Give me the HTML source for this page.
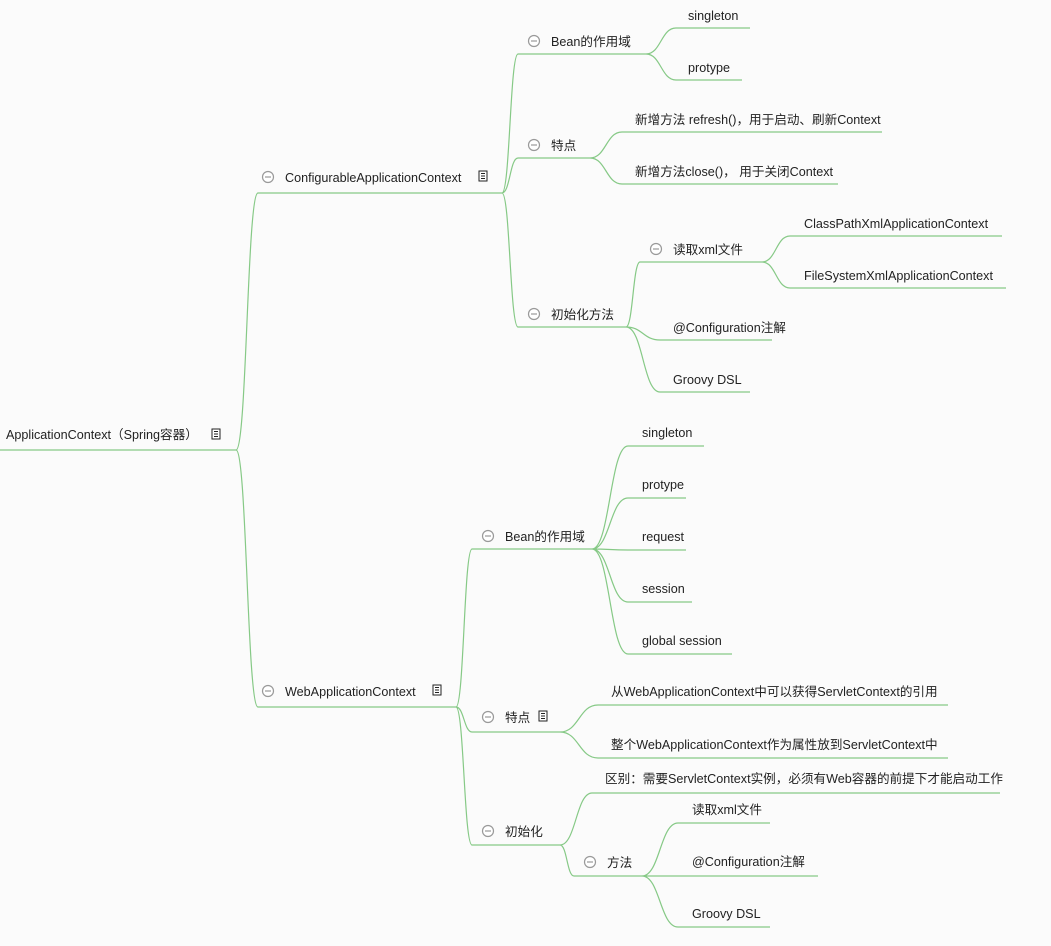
<!DOCTYPE html>
<html><head><meta charset="utf-8"><style>
html,body{margin:0;padding:0;background:#fbfbfb;}
svg text{font-family:"Liberation Sans","Noto Sans CJK SC",sans-serif;font-size:12.6px;fill:#222;dominant-baseline:central;}
</style></head><body>
<svg width="1051" height="941" xmlns="http://www.w3.org/2000/svg">
<defs>
<g id="m"><circle cx="0" cy="0" r="5.5" fill="#fff" stroke="#999" stroke-width="1.2"/><line x1="-3" y1="0" x2="3" y2="0" stroke="#999" stroke-width="1.2"/></g>
<g id="d"><rect x="-4" y="-5" width="8" height="10" fill="#fff" stroke="#222" stroke-width="1"/><line x1="-2" y1="-2.5" x2="2" y2="-2.5" stroke="#222"/><line x1="-2" y1="0" x2="2" y2="0" stroke="#222"/><line x1="-2" y1="2.5" x2="2" y2="2.5" stroke="#222"/></g>
</defs>
<g fill="none" stroke="#86c986" stroke-width="1.2">
<path d="M0 450H236M258 193H502M258 707H456
M518 54H646M676 28H750M676 80H742
M518 158H590M622 132H882M622 184H838
M518 327H626M640 262H762M790 236H1002M790 288H1006M660 340H772M660 392H750
M472 549H592M628 446H704M628 498H686M628 550H686M628 602H692M628 654H732
M472 732H560M598 705H948M598 758H948
M472 845H560M592 793H1000M574 876H642M678 823H770M678 876H818M678 927H770"/>
<path d="M236 450C247 450 247 193 258 193M236 450C247 450 247 707 258 707
M502 193C510 193 510 54 518 54M502 193C510 193 510 158 518 158M502 193C510 193 510 327 518 327
M646 54C661 54 661 28 676 28M646 54C661 54 661 80 676 80
M590 158C606 158 606 132 622 132M590 158C606 158 606 184 622 184
M626 327C633 327 633 262 640 262M626 327C643 327 643 340 660 340M626 327C643 327 643 392 660 392
M762 262C776 262 776 236 790 236M762 262C776 262 776 288 790 288
M456 707C464 707 464 549 472 549M456 707C464 707 464 732 472 732M456 707C464 707 464 845 472 845
M592 549C610 549 610 446 628 446M592 549C610 549 610 498 628 498M592 549C610 549 610 550 628 550M592 549C610 549 610 602 628 602M592 549C610 549 610 654 628 654
M560 732C579 732 579 705 598 705M560 732C579 732 579 758 598 758
M560 845C576 845 576 793 592 793M560 845C567 845 567 876 574 876
M642 876C660 876 660 823 678 823M642 876C660 876 660 876 678 876M642 876C660 876 660 927 678 927"/>
</g>
<text x="6" y="435">ApplicationContext（Spring容器）</text><use href="#d" x="216" y="434"/>
<use href="#m" x="268" y="177"/><text x="285" y="178">ConfigurableApplicationContext</text><use href="#d" x="483" y="176"/>
<use href="#m" x="268" y="691"/><text x="285" y="692">WebApplicationContext</text><use href="#d" x="437" y="690"/>
<use href="#m" x="534" y="41"/><text x="551" y="42">Bean的作用域</text>
<text x="688" y="16">singleton</text><text x="688" y="68">protype</text>
<use href="#m" x="534" y="145"/><text x="551" y="146">特点</text>
<text x="635" y="120">新增方法 refresh()，用于启动、刷新Context</text>
<text x="635" y="172">新增方法close()， 用于关闭Context</text>
<use href="#m" x="534" y="314"/><text x="551" y="315">初始化方法</text>
<use href="#m" x="656" y="249"/><text x="673" y="250">读取xml文件</text>
<text x="804" y="224">ClassPathXmlApplicationContext</text>
<text x="804" y="276">FileSystemXmlApplicationContext</text>
<text x="673" y="328">@Configuration注解</text>
<text x="673" y="380">Groovy DSL</text>
<use href="#m" x="488" y="536"/><text x="505" y="537">Bean的作用域</text>
<text x="642" y="433">singleton</text><text x="642" y="485">protype</text><text x="642" y="537">request</text><text x="642" y="589">session</text><text x="642" y="641">global session</text>
<use href="#m" x="488" y="717"/><text x="505" y="718">特点</text><use href="#d" x="543" y="716"/>
<text x="611" y="692">从WebApplicationContext中可以获得ServletContext的引用</text>
<text x="611" y="745">整个WebApplicationContext作为属性放到ServletContext中</text>
<use href="#m" x="488" y="831"/><text x="505" y="832">初始化</text>
<text x="605" y="779">区别：需要ServletContext实例，必须有Web容器的前提下才能启动工作</text>
<use href="#m" x="590" y="862"/><text x="607" y="863">方法</text>
<text x="692" y="810">读取xml文件</text>
<text x="692" y="862">@Configuration注解</text>
<text x="692" y="914">Groovy DSL</text>
</svg>
</body></html>
